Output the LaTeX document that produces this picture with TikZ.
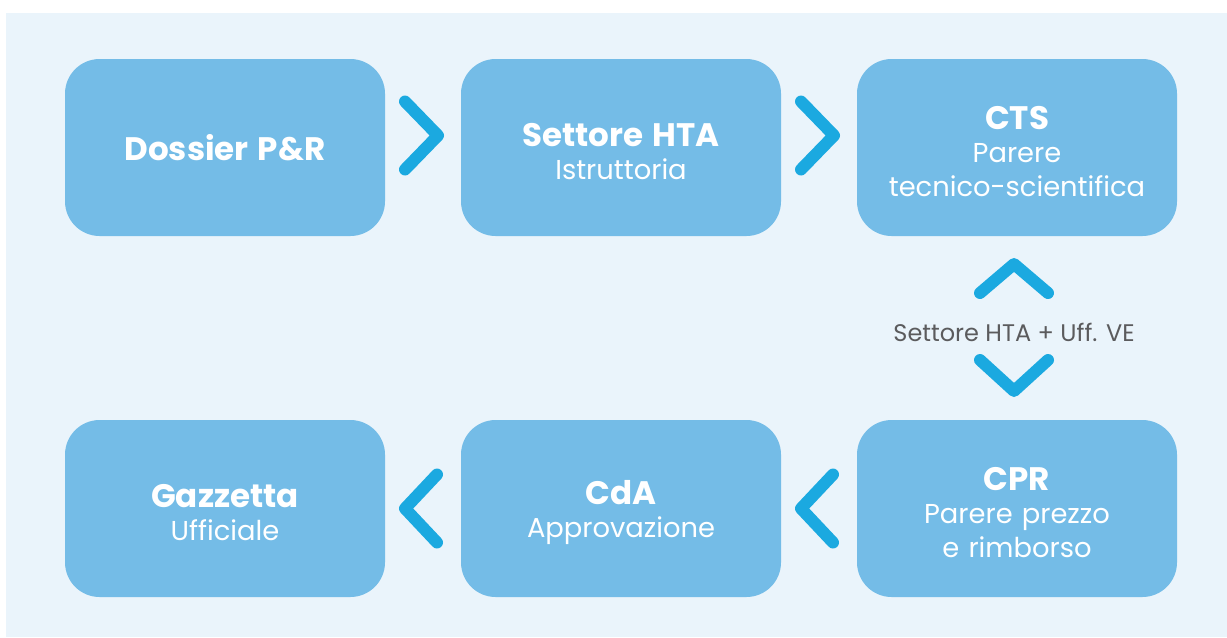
\documentclass[tikz,border=0pt]{standalone}
\usepackage{fontspec}
\setmainfont{Poppins}
\usetikzlibrary{calc}
\definecolor{bgblue}{HTML}{EAF4FB}
\definecolor{boxblue}{HTML}{74BCE7}
\definecolor{chevblue}{HTML}{1BA9E0}
\definecolor{labelgrey}{HTML}{5B5B5D}
\newcommand{\ttl}[1]{{\fontsize{24.4}{25}\selectfont\bfseries #1}}

\begin{document}
\begin{tikzpicture}[x=0.75pt,y=-0.75pt,
	phase/.style={fill=boxblue, rounded corners=26pt, minimum width=240pt, minimum height=132.75pt, inner sep=0pt, text=white, text width=225pt, align=center, font=\fontsize{20.5}{25}\selectfont, execute at end node={\endgraf\vspace*{-6pt}}},
	chevron/.style={draw=chevblue, line width=9pt, line cap=round, line join=round}]
	\useasboundingbox (0,0) rectangle (1227,637);
	\fill[bgblue] (6,13) rectangle (1227,637);
	%%%nodes
	%top row
	\node[phase] at (225,147.5) (dossier){\ttl{Dossier P\&R}};
	\node[phase] at (621,147.5) (hta){\ttl{Settore HTA}\\Istruttoria};
	\node[phase] at (1017,147.5) (cts){\ttl{CTS}\\Parere\\tecnico-scientifica};
	%bottom row
	\node[phase] at (225,508.5) (gazzetta){\ttl{Gazzetta}\\Ufficiale};
	\node[phase] at (621,508.5) (cda){\ttl{CdA}\\Approvazione};
	\node[phase] at (1017,508.5) (cpr){\ttl{CPR}\\Parere prezzo\\e rimborso};
	%middle label
	\node[text=labelgrey, font=\fontsize{18}{20}\selectfont] at ($(cts.south)!.5!(cpr.north)+(-3,4)$) (ve){Settore HTA + Uff. VE};
	%%%chevrons
	%top row, to the right
	\draw[chevron] ($(dossier.east)!.5!(hta.west)+(-18,-46)$) -- ++(33,34) -- ++(-33,34);
	\draw[chevron] ($(hta.east)!.5!(cts.west)+(-18,-46)$) -- ++(33,34) -- ++(-33,34);
	%cts <-> cpr
	\draw[chevron] ($(ve)+(-34,-39)$) -- ++(34,-29) -- ++(34,29);
	\draw[chevron] ($(ve)+(-34,28)$) -- ++(34,31) -- ++(34,-31);
	%bottom row, to the left
	\draw[chevron] ($(cda.east)!.5!(cpr.west)+(14,-34)$) -- ++(-32,34) -- ++(32,34);
	\draw[chevron] ($(gazzetta.east)!.5!(cda.west)+(14,-34)$) -- ++(-32,34) -- ++(32,34);
\end{tikzpicture}
\end{document}
